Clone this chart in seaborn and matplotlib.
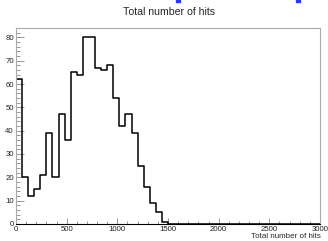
import numpy as np
import pandas as pd
import matplotlib
matplotlib.use("Agg")
import matplotlib.pyplot as plt
import seaborn as sns
from matplotlib.ticker import MultipleLocator

bin_width = 60
bin_edges = list(range(0, 3000 + bin_width, bin_width))
counts = [62, 20, 12, 15, 21, 39, 20, 47, 36, 65, 64, 80, 80, 67, 66, 68, 54, 42,
          47, 39, 25, 16, 9, 5, 1] + [0] * 25
title = "Total number of hits"
xlabel = "Total number of hits"

centers = [(a + b) / 2 for a, b in zip(bin_edges[:-1], bin_edges[1:])]
df = pd.DataFrame({"hits": centers, "count": counts})

sns.set_theme(style="white")
plt.rcParams["font.family"] = ["Liberation Sans", "DejaVu Sans"]

fig = plt.figure(figsize=(3.28, 2.41), dpi=100)
ax = fig.add_axes([16/328, 17/241, 304/328, 196/241])

sns.histplot(data=df, x="hits", weights="count", bins=bin_edges, element="step",
             fill=False, color="black", linewidth=1.1, ax=ax)

ax.set_xlim(0, 3000)
ax.set_ylim(0, 84)
ax.set_xlabel("")
ax.set_ylabel("")
ax.xaxis.set_major_locator(MultipleLocator(500))
ax.xaxis.set_minor_locator(MultipleLocator(100))
ax.yaxis.set_major_locator(MultipleLocator(10))
ax.yaxis.set_minor_locator(MultipleLocator(2))
ax.tick_params(axis="both", which="both", direction="in", colors="#888888",
               labelcolor="#222222", labelsize=5.6, width=0.6)
ax.tick_params(axis="x", which="major", length=4.5, pad=1.5)
ax.tick_params(axis="x", which="minor", length=2.5)
ax.tick_params(axis="y", which="major", length=5.5, pad=1.5)
ax.tick_params(axis="y", which="minor", length=2.8)
ax.tick_params(bottom=True, left=True, top=False, right=False, which="both")
for s in ax.spines.values():
    s.set_color("#aaaaaa")
    s.set_linewidth(0.8)
ax.spines["bottom"].set_color("black")

fig.text(169/328, 1 - 12/241, title, ha="center", va="center", fontsize=7.6)
fig.text(321/328, 1 - 236/241, xlabel, ha="right", va="center", fontsize=5.8)

# small blue fragments at the top edge
fig.patches.append(plt.Rectangle((176/328, 1 - 1.5/241), 4/328, 1.5/241,
                                 transform=fig.transFigure, color="#3030ff"))
fig.patches.append(plt.Rectangle((296/328, 1 - 1.5/241), 4/328, 1.5/241,
                                 transform=fig.transFigure, color="#3030ff"))

fig.savefig("out.png", dpi=100)
